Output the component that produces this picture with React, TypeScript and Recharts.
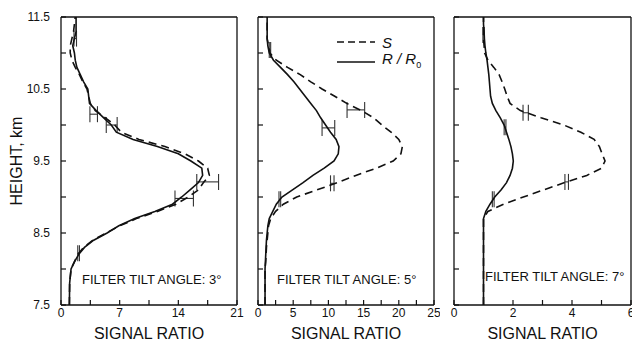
import { ScatterChart, Scatter, XAxis, YAxis, ErrorBar, Legend } from "recharts";

const FONT = '"Liberation Sans", Arial, sans-serif';

// heights (km) shared by every profile
const HEIGHTS = [
  7.5, 7.8, 8.0, 8.1, 8.2, 8.3, 8.4, 8.5, 8.6, 8.7, 8.8, 8.9, 9.0, 9.1, 9.2, 9.3, 9.4, 9.5, 9.6,
  9.7, 9.8, 9.9, 10.0, 10.1, 10.2, 10.3, 10.4, 10.5, 10.6, 10.7, 10.8, 10.9, 11.0, 11.1, 11.2,
  11.3, 11.4, 11.5,
];

// filter tilt 3°
const S_3 = [
  1.0, 1.03, 1.2, 1.6, 2.0, 2.7, 3.8, 5.4, 7.0, 9.0, 11.5, 13.7, 15.2, 16.4, 17.0, 17.7, 17.5,
  16.4, 14.8, 12.4, 9.3, 7.2, 6.4, 5.3, 4.1, 3.5, 3.3, 3.1, 2.6, 2.2, 1.7, 1.3, 1.1, 1.1, 1.3,
  1.5, 1.6, 1.7,
];
const R_3 = [
  1.0, 1.03, 1.2, 1.6, 2.1, 2.8, 3.9, 5.5, 6.9, 8.8, 11.2, 13.3, 14.4, 15.4, 16.4, 16.9, 16.8,
  15.5, 14.0, 11.5, 8.6, 6.6, 6.0, 5.1, 4.2, 3.4, 3.3, 3.2, 2.7, 2.3, 1.9, 1.7, 1.6, 1.4, 1.6,
  1.8, 1.8, 1.8,
];
const ERR_H_3 = [11.2, 10.15, 10.0, 9.21, 8.98, 8.22];
const ERR_X_3 = [1.7, 3.9, 6.05, 17.5, 14.7, 2.1];
const ERR_E_3 = [0.15, 0.45, 0.65, 1.3, 1.1, 0.1];

// filter tilt 5°
const S_5 = [
  1.0, 1.0, 1.0, 1.1, 1.15, 1.2, 1.3, 1.4, 1.5, 1.8, 2.5, 3.6, 5.5, 8.4, 11.3, 13.9, 16.8, 19.2,
  20.3, 20.5, 20.0, 18.9, 17.6, 16.4, 14.7, 12.6, 10.9, 9.1, 7.5, 6.0, 4.2, 2.6, 1.7, 1.5, 1.3,
  1.3, 1.3, 1.3,
];
const R_5 = [
  1.0, 1.0, 1.0, 1.05, 1.1, 1.15, 1.2, 1.3, 1.4, 1.6, 2.1, 2.6, 3.4, 4.9, 6.4, 7.8, 9.4, 10.8,
  11.4, 11.5, 11.1, 10.3, 9.6, 8.9, 8.3, 7.5, 6.7, 5.9, 5.1, 4.2, 3.2, 2.2, 1.6, 1.4, 1.3, 1.3,
  1.3, 1.3,
];
const ERR_H_5 = [11.04, 10.21, 9.96, 9.19, 8.97];
const ERR_X_5 = [1.7, 13.9, 10.0, 10.55, 3.1];
const ERR_E_5 = [0.1, 1.25, 0.9, 0.25, 0.12];

// filter tilt 7°
const S_7 = [
  1.0, 1.0, 1.0, 1.0, 1.0, 1.0, 1.0, 1.0, 1.0, 1.0, 1.15, 1.68, 2.35, 3.05, 3.75, 4.5, 5.0, 5.12,
  5.02, 4.93, 4.75, 4.3, 3.72, 2.95, 2.25, 1.9, 1.8, 1.72, 1.63, 1.53, 1.35, 1.15, 1.04, 1.02,
  1.0, 1.0, 1.0, 1.0,
];
const R_7 = [
  1.0, 1.0, 1.0, 1.0, 1.0, 1.0, 1.0, 1.0, 1.0, 1.0, 1.08, 1.22, 1.38, 1.6, 1.78, 1.9, 1.98, 2.01,
  1.98, 1.93, 1.86, 1.78, 1.7, 1.57, 1.42, 1.3, 1.24, 1.22, 1.2, 1.18, 1.15, 1.12, 1.08, 1.05,
  1.03, 1.02, 1.0, 1.0,
];
const ERR_H_7 = [11.25, 10.17, 9.97, 9.21, 8.97];
const ERR_X_7 = [1.0, 2.43, 1.73, 3.82, 1.33];
const ERR_E_7 = [0.02, 0.09, 0.03, 0.06, 0.03];

const Y_TICKS = [7.5, 8, 8.5, 9, 9.5, 10, 10.5, 11, 11.5];
const X_TICKS_3 = [0, 3.5, 7, 10.5, 14, 17.5, 21];
const X_TICKS_5 = [0, 2.5, 5, 7.5, 10, 12.5, 15, 17.5, 20, 22.5, 25];
const X_TICKS_7 = [0, 1, 2, 3, 4, 5, 6];

const KEY_ORDER = ["S", "R / R0"];

const profile = (vals: number[]) => HEIGHTS.map((h, i) => ({ h, x: vals[i] }));
const bars = (hs: number[], xs: number[], es: number[]) =>
  hs.map((h, i) => ({ h, x: xs[i], e: es[i] }));

const INK = "#111";
const noShape = () => <g />;

function KeyBox({ payload }: any) {
  const items = (payload ?? [])
    .filter((p: any) => KEY_ORDER.includes(p.value))
    .sort((a: any, b: any) => KEY_ORDER.indexOf(a.value) - KEY_ORDER.indexOf(b.value));
  return (
    <div style={{ fontFamily: FONT, color: INK }}>
      {items.map((p: any) => (
        <div key={p.value} style={{ display: "flex", alignItems: "center", height: 20 }}>
          <svg width={40} height={10}>
            <line
              x1={0}
              x2={38}
              y1={5}
              y2={5}
              stroke={INK}
              strokeWidth={1.5}
              strokeDasharray={p.value === "S" ? "7 4" : undefined}
            />
          </svg>
          <span style={{ fontStyle: "italic", fontSize: 15, marginLeft: 5, lineHeight: "15px" }}>
            {p.value === "S" ? (
              "S"
            ) : (
              <>
                R / R<sub style={{ fontStyle: "normal", fontSize: 9 }}>0</sub>
              </>
            )}
          </span>
        </div>
      ))}
    </div>
  );
}

interface PanelProps {
  left: number;
  width: number;
  plotLeft: number;
  plotRight: number;
  xMax: number;
  xTicks: number[];
  labelStep: number;
  s: number[];
  r: number[];
  err: { h: number; x: number; e: number }[];
  yLabels?: boolean;
  caption: string;
  captionX: number;
  captionY: number;
  legend?: boolean;
}

function Panel(p: PanelProps) {
  const fmtX = (v: number) => (Math.abs(v / p.labelStep - Math.round(v / p.labelStep)) < 1e-6 ? String(v) : "");
  const fmtY = (v: number) => (p.yLabels && Math.abs((v - 7.5) % 1) < 1e-6 ? v.toFixed(1) : "");
  const axisLine = { stroke: INK, strokeWidth: 1.3 };
  const tickLine = { stroke: INK, strokeWidth: 1.2 };
  return (
    <div style={{ position: "absolute", left: p.left, top: 0 }}>
      <ScatterChart width={p.width} height={347} margin={{ top: 0, right: 0, bottom: 0, left: 0 }}>
        <XAxis
          xAxisId="b"
          type="number"
          dataKey="x"
          domain={[0, p.xMax]}
          ticks={p.xTicks}
          allowDataOverflow
          interval={0}
          height={42}
          tickSize={-5}
          tickMargin={8}
          tickFormatter={fmtX}
          tick={{ fontSize: 12, fill: INK }}
          axisLine={axisLine}
          tickLine={tickLine}
          label={{ value: "SIGNAL RATIO", position: "insideBottom", offset: 8, fontSize: 16, fill: INK }}
        />
        <XAxis
          xAxisId="t"
          orientation="top"
          type="number"
          domain={[0, p.xMax]}
          ticks={p.xTicks}
          allowDataOverflow
          interval={0}
          height={17}
          tickSize={-5}
          tick={false}
          axisLine={axisLine}
          tickLine={tickLine}
        />
        <YAxis
          yAxisId="l"
          type="number"
          dataKey="h"
          domain={[7.5, 11.5]}
          ticks={Y_TICKS}
          allowDataOverflow
          interval={0}
          width={p.plotLeft}
          tickSize={-5}
          tickMargin={16}
          tickFormatter={fmtY}
          tick={{ fontSize: 12, fill: INK }}
          axisLine={axisLine}
          tickLine={tickLine}
          label={
            p.yLabels
              ? {
                  value: "HEIGHT, km",
                  angle: -90,
                  position: "insideLeft",
                  offset: 16,
                  fontSize: 16,
                  fill: INK,
                  style: { textAnchor: "middle" },
                }
              : undefined
          }
        />
        <YAxis
          yAxisId="r"
          orientation="right"
          type="number"
          domain={[7.5, 11.5]}
          ticks={Y_TICKS}
          allowDataOverflow
          interval={0}
          width={p.width - p.plotRight}
          tickSize={-5}
          tick={false}
          axisLine={axisLine}
          tickLine={tickLine}
        />
        <Scatter
          name="S"
          xAxisId="b"
          yAxisId="l"
          data={profile(p.s)}
          line={{ stroke: INK, strokeWidth: 1.6, strokeDasharray: "8 5" }}
          lineJointType="linear"
          shape={noShape}
          isAnimationActive={false}
        />
        <Scatter
          name="R / R0"
          xAxisId="b"
          yAxisId="l"
          data={profile(p.r)}
          line={{ stroke: INK, strokeWidth: 1.6 }}
          lineJointType="linear"
          shape={noShape}
          isAnimationActive={false}
        />
        <Scatter
          name="err"
          xAxisId="b"
          yAxisId="l"
          data={p.err}
          shape={noShape}
          legendType="none"
          isAnimationActive={false}
        >
          <ErrorBar dataKey="e" direction="x" width={8} stroke="#333" strokeWidth={1.1} isAnimationActive={false} />
        </Scatter>
        {p.legend && (
          <Legend
            layout="vertical"
            align="center"
            verticalAlign="middle"
            content={KeyBox}
            wrapperStyle={{ top: 32, left: 92, width: 100 }}
          />
        )}
        <text x={p.captionX} y={p.captionY} fontSize={13} fill={INK}>
          {p.caption}
        </text>
      </ScatterChart>
    </div>
  );
}

export default function App() {
  return (
    <div
      style={{
        position: "absolute",
        left: 0,
        top: 0,
        width: 632,
        height: 347,
        background: "#fff",
        fontFamily: FONT,
        overflow: "hidden",
      }}
    >
      <Panel
        left={0}
        width={245}
        plotLeft={61}
        plotRight={237}
        xMax={21}
        xTicks={X_TICKS_3}
        labelStep={7}
        s={S_3}
        r={R_3}
        err={bars(ERR_H_3, ERR_X_3, ERR_E_3)}
        yLabels
        caption="FILTER TILT ANGLE: 3°"
        captionX={82}
        captionY={284}
      />
      <Panel
        left={245}
        width={195}
        plotLeft={13}
        plotRight={189}
        xMax={25}
        xTicks={X_TICKS_5}
        labelStep={5}
        s={S_5}
        r={R_5}
        err={bars(ERR_H_5, ERR_X_5, ERR_E_5)}
        caption="FILTER TILT ANGLE: 5°"
        captionX={32}
        captionY={284}
        legend
      />
      <Panel
        left={440}
        width={192}
        plotLeft={14}
        plotRight={191}
        xMax={6}
        xTicks={X_TICKS_7}
        labelStep={2}
        s={S_7}
        r={R_7}
        err={bars(ERR_H_7, ERR_X_7, ERR_E_7)}
        caption="FILTER TILT ANGLE: 7°"
        captionX={45}
        captionY={281}
      />
    </div>
  );
}
